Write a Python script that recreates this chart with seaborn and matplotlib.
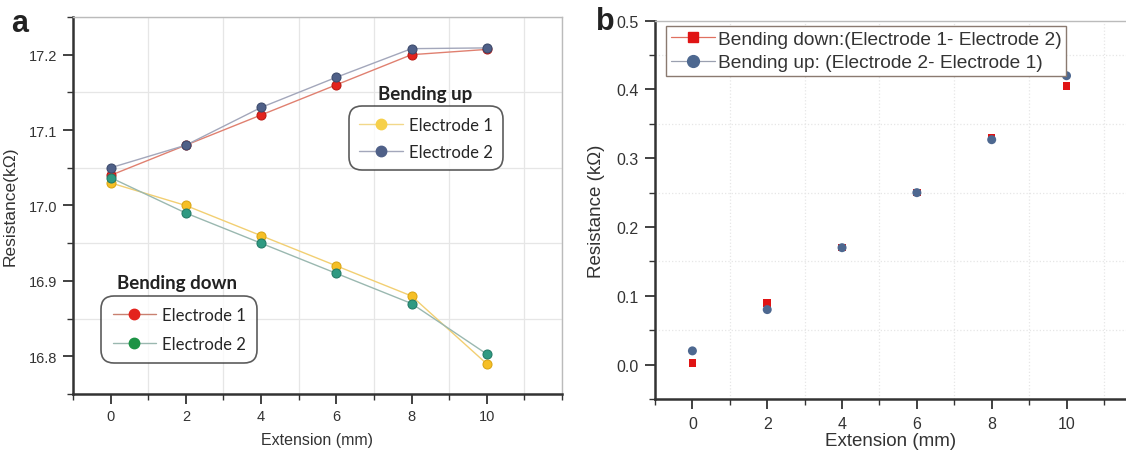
import matplotlib
matplotlib.use("Agg")
import matplotlib.pyplot as plt
from matplotlib.lines import Line2D
from matplotlib.ticker import MultipleLocator
import seaborn as sns

# data
extension = [0, 2, 4, 6, 8, 10]

# panel a (series as drawn)
red_up = [17.04, 17.08, 17.12, 17.16, 17.20, 17.207]
blue_up = [17.05, 17.08, 17.13, 17.17, 17.208, 17.209]
yellow_down = [17.03, 17.00, 16.96, 16.92, 16.88, 16.79]
teal_down = [17.037, 16.99, 16.95, 16.91, 16.87, 16.803]

# panel b
diff_down = [0.002, 0.09, 0.17, 0.25, 0.33, 0.405]
diff_up = [0.02, 0.08, 0.17, 0.25, 0.327, 0.42]

sns.set_style("white")
plt.rcParams['font.family'] = ['Liberation Sans', 'DejaVu Sans']

fig = plt.figure(figsize=(11.26, 4.52), dpi=100)
ax1 = fig.add_axes([0.0648, 0.1261, 0.4343, 0.8341])
ax2 = fig.add_axes([0.5817, 0.1150, 0.4183, 0.8370])


def style_axes(ax, grid_ls):
    ax.set_xticks(extension)
    ax.xaxis.set_minor_locator(MultipleLocator(1))
    ax.yaxis.set_major_locator(MultipleLocator(0.1))
    ax.yaxis.set_minor_locator(MultipleLocator(0.05))
    ax.tick_params(axis='both', which='major', direction='out', length=7, width=1.3,
                   color='#333333', bottom=True, left=True, top=False, right=False)
    ax.tick_params(axis='both', which='minor', direction='out', length=4, width=1.0,
                   color='#333333', bottom=True, left=True, top=False, right=False)
    for s in ['left', 'bottom']:
        ax.spines[s].set_color('#333333')
        ax.spines[s].set_linewidth(1.8)
    for s in ['top', 'right']:
        ax.spines[s].set_color('#bbbbbb')
        ax.spines[s].set_linewidth(1.0)
    ax.xaxis.grid(False, which='major')
    ax.yaxis.grid(False, which='major')
    ax.xaxis.grid(True, which='minor', color='#e6e6e6', linestyle=grid_ls, linewidth=0.9)
    ax.yaxis.grid(True, which='minor', color='#e6e6e6', linestyle=grid_ls, linewidth=0.9)
    ax.set_axisbelow(True)


# ---- panel a ----
mk = dict(marker='o', markersize=6.5, linewidth=1.0)
sns.lineplot(x=extension, y=red_up, ax=ax1, color='#e08070', markerfacecolor='#e3231d',
             markeredgecolor='#b81812', **mk)
sns.lineplot(x=extension, y=blue_up, ax=ax1, color='#a3a7bb', markerfacecolor='#4f6088',
             markeredgecolor='#3b4a6c', **mk)
sns.lineplot(x=extension, y=yellow_down, ax=ax1, color='#f2cf72', markerfacecolor='#f6bf25',
             markeredgecolor='#d9a514', **mk)
sns.lineplot(x=extension, y=teal_down, ax=ax1, color='#9ab8b0', markerfacecolor='#2f9a82',
             markeredgecolor='#217a66', **mk)

ax1.set_xlim(-1, 12)
ax1.set_ylim(16.75, 17.25)
style_axes(ax1, '-')
ax1.tick_params(labelsize=10.5, labelcolor='#333333', pad=4)
ax1.set_xlabel('Extension (mm)', fontsize=11.5, color='#333333', labelpad=6)
ax1.set_ylabel('Resistance(kΩ)', fontsize=12.5, color='#333333', labelpad=8)

leg_font = dict(family=['Lato', 'DejaVu Sans'], size=12)
up_handles = [
    Line2D([], [], color='#f2d88a', marker='o', markersize=7.5, markerfacecolor='#f6d04a',
           markeredgecolor='#f6d04a', linewidth=1.0),
    Line2D([], [], color='#a3a7bb', marker='o', markersize=7.5, markerfacecolor='#4f6088',
           markeredgecolor='#4f6088', linewidth=1.0),
]
leg_up = ax1.legend(up_handles, ['Electrode 1', 'Electrode 2'], loc='upper left',
                    bbox_to_anchor=(0.572, 0.753), prop=leg_font, frameon=True,
                    fancybox=True, edgecolor='#333333', handlelength=2.6,
                    handletextpad=0.35, borderpad=0.4, labelspacing=0.65,
                    borderaxespad=0.0)
leg_up.get_frame().set_linewidth(1.2)
leg_up.get_frame().set_boxstyle('round,pad=0.25,rounding_size=0.8')
ax1.add_artist(leg_up)

down_handles = [
    Line2D([], [], color='#c98070', marker='o', markersize=7.5, markerfacecolor='#e3231d',
           markeredgecolor='#e3231d', linewidth=1.0),
    Line2D([], [], color='#9ab8b0', marker='o', markersize=7.5, markerfacecolor='#1c9345',
           markeredgecolor='#1c9345', linewidth=1.0),
]
leg_down = ax1.legend(down_handles, ['Electrode 1', 'Electrode 2'], loc='upper left',
                      bbox_to_anchor=(0.066, 0.250), prop=leg_font, frameon=True,
                      fancybox=True, edgecolor='#333333', handlelength=2.6,
                      handletextpad=0.35, borderpad=0.45, labelspacing=0.75,
                      borderaxespad=0.0)
leg_down.get_frame().set_linewidth(1.2)
leg_down.get_frame().set_boxstyle('round,pad=0.25,rounding_size=0.8')

ax1.text(0.72, 0.796, 'Bending up', transform=ax1.transAxes, ha='center', va='center',
         fontsize=13.5, fontweight='bold', family=['Lato', 'DejaVu Sans'], color='#222222')
ax1.text(0.213, 0.297, 'Bending down', transform=ax1.transAxes, ha='center', va='center',
         fontsize=13.5, fontweight='bold', family=['Lato', 'DejaVu Sans'], color='#222222')

# ---- panel b ----
sns.scatterplot(x=extension, y=diff_down, ax=ax2, marker='s', s=30, color='#e01414',
                edgecolor='none', zorder=3)
sns.scatterplot(x=extension, y=diff_up, ax=ax2, marker='o', s=42, color='#4d6890',
                edgecolor='none', zorder=4)
ax2.set_xlim(-1, 11.59)
ax2.set_ylim(-0.05, 0.5)
style_axes(ax2, ':')
ax2.spines['right'].set_visible(False)
ax2.tick_params(labelsize=11.5, labelcolor='#333333', pad=5)
ax2.set_xlabel('Extension (mm)', fontsize=13.5, color='#333333', labelpad=1)
ax2.set_ylabel('Resistance (kΩ)', fontsize=13.5, color='#333333', labelpad=8)

b_handles = [
    Line2D([], [], color='#e07060', marker='s', markersize=7, markerfacecolor='#e01414',
           markeredgecolor='#e01414', linewidth=0.9),
    Line2D([], [], color='#9aa0b0', marker='o', markersize=8.5, markerfacecolor='#4d6890',
           markeredgecolor='#4d6890', linewidth=0.9),
]
leg_b = ax2.legend(b_handles, ['Bending down:(Electrode 1- Electrode 2)',
                               'Bending up: (Electrode 2- Electrode 1)'],
                   loc='upper left', bbox_to_anchor=(0.023, 0.986), fontsize=13.8,
                   frameon=True, fancybox=False, edgecolor='#8a7a70', framealpha=1,
                   handlelength=2.3, handletextpad=0.15, borderpad=0.25, labelspacing=0.3,
                   borderaxespad=0.0)
leg_b.get_frame().set_linewidth(1.0)
for t in leg_b.get_texts():
    t.set_color('#333333')

# panel letters
fig.text(0.010, 0.929, 'a', fontsize=22, fontweight='bold', family=['Liberation Sans'],
         color='#222222', va='baseline')
fig.text(0.529, 0.933, 'b', fontsize=22, fontweight='bold', family=['Liberation Sans'],
         color='#222222', va='baseline')

fig.savefig('out.png', dpi=100)
